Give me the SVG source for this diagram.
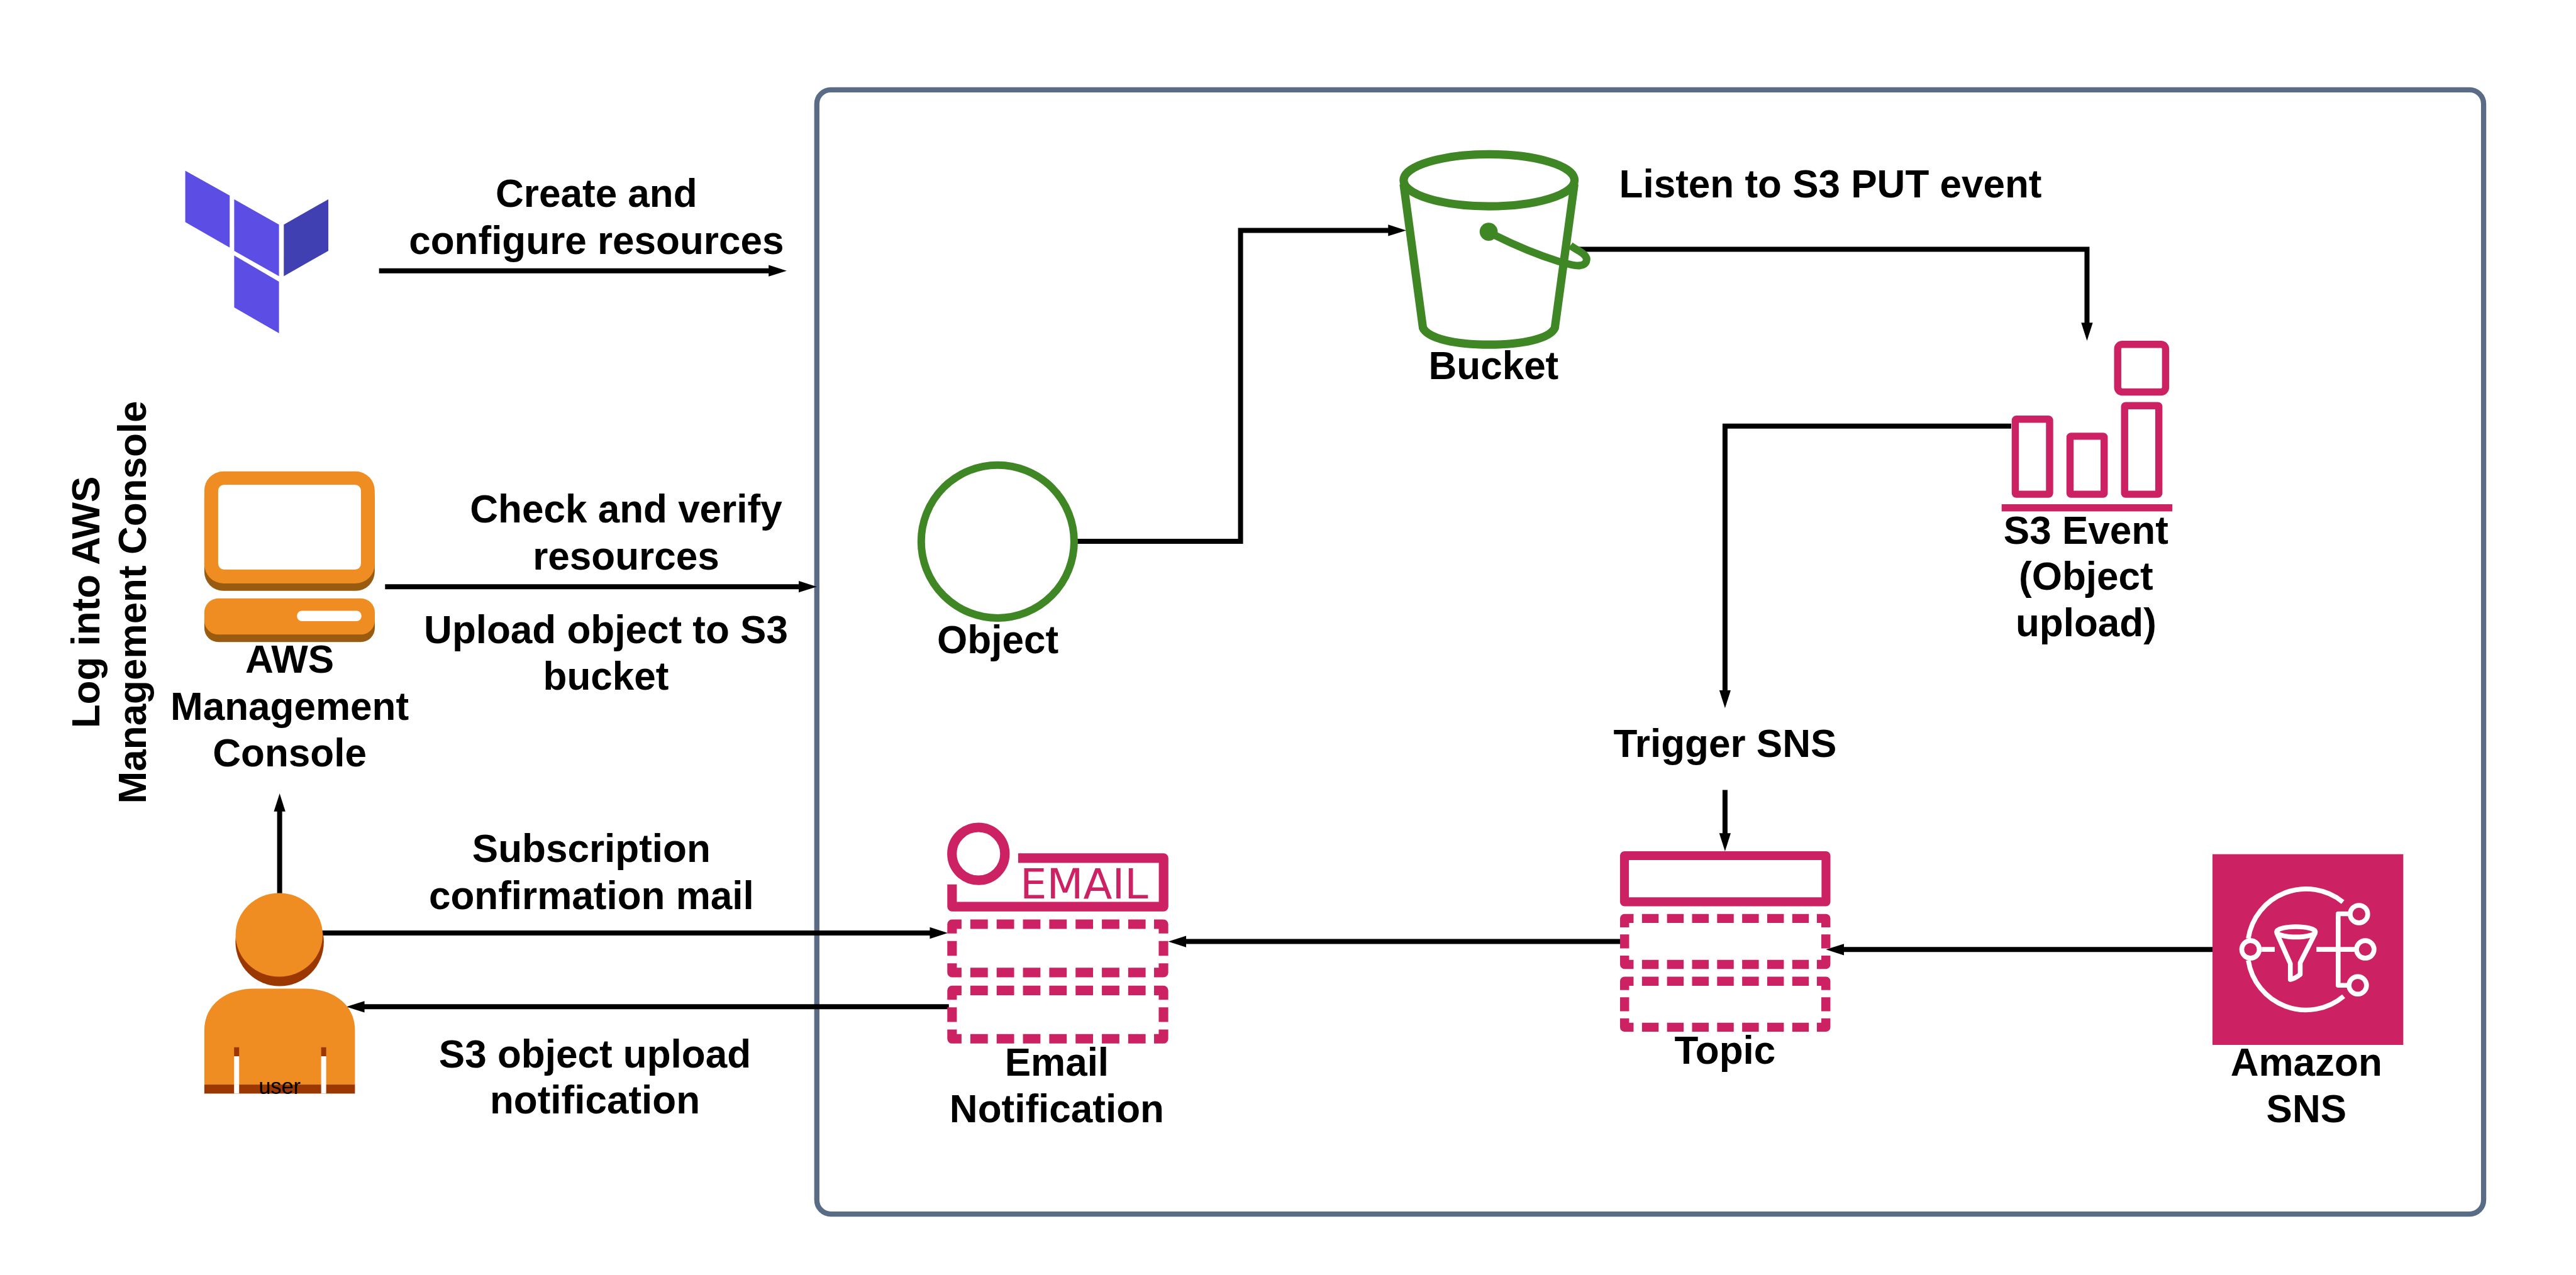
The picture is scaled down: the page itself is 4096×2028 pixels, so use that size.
<svg xmlns="http://www.w3.org/2000/svg" xmlns:xlink="http://www.w3.org/1999/xlink" width="4096" height="2028" viewBox="0 0 4096 2028">
<style>
.t{font-family:"Liberation Sans",Arial,sans-serif;font-weight:700;font-size:77.7px;fill:#000;text-anchor:middle}
.c{fill:none;stroke:#000;stroke-width:10;marker-end:url(#arr)}
.n{fill:none;stroke:#000;stroke-width:10}
.p{fill:none;stroke:#CC2264;stroke-linejoin:round}
.g{fill:none;stroke:#3F8624;stroke-linejoin:round}
.w{fill:none;stroke:#fff;stroke-width:9.5;stroke-linejoin:round}
.o{fill:#F08D22}
.tf{fill:#5C4EE5}
</style>
<defs>
<marker id="arr" markerUnits="userSpaceOnUse" markerWidth="36" markerHeight="24" viewBox="0 0 36 24" refX="1" refY="12" orient="auto"><polygon points="0,0.5 36,12 0,23.5" fill="#000"/></marker>
<g id="dashbox" class="p" stroke-width="19">
<path d="M9.5,28V9.5H28.3M411.8,9.5H430.6V28M9.5,87.3V105.8H28.3M411.8,105.8H430.6V87.3"/>
<path stroke-dasharray="34.8 17.6" d="M45.9,9.5H395M45.9,105.8H395"/>
<path d="M9.5,43V72.3M430.6,43V72.3"/>
</g>
</defs>
<rect width="4096" height="2028" fill="#fff"/>
<g transform="scale(0.79828)">
<g id="container"><rect x="1627" y="179" width="3320" height="2240" rx="28" fill="#fff" stroke="#5A6B86" stroke-width="10.4"/></g>
<g id="connectors">
<path class="c" d="M755,539.5H1532"/>
<path class="c" d="M767,1169H1592"/>
<path class="c" d="M557,1785V1616"/>
<path class="c" d="M640,1859H1853"/>
<path class="c" d="M1890,2006H725"/>
<path class="c" d="M3230,1876H2362"/>
<path class="c" d="M4410,1892H3672"/>
<path class="c" d="M3436,1574V1661"/>
<path class="c" d="M4006,849H3436V1376"/>
<path class="c" d="M3140,496.7H4157V644"/>
<path class="c" d="M2145,1078.7H2471V459H2766"/>
</g>
<g id="terraform">
<polygon class="tf" points="369,340 457.5,389.6 457.5,493.2 369,442.6"/>
<polygon class="tf" points="466.5,397 555.7,447.6 555.7,550.4 466.5,499.8"/>
<polygon fill="#4040B2" points="565.3,447.6 654,397 654,499.8 565.3,550.4"/>
<polygon class="tf" points="466.5,509 555.7,561.2 555.7,664 466.5,612.6"/>
</g>
<text class="t" x="1188" y="412">Create and</text>
<text class="t" x="1188" y="505.6">configure resources</text>
<g id="console">
<rect x="407" y="954" width="339.4" height="223.3" rx="38" fill="#995B10"/>
<rect x="407" y="939.3" width="339.4" height="223.1" rx="38" class="o"/>
<rect x="434.6" y="965.8" width="284.4" height="169.2" rx="12" fill="#fff"/>
<rect x="407" y="1207" width="339.6" height="72.3" rx="28" fill="#995B10"/>
<rect x="407" y="1192.2" width="339.6" height="72.2" rx="28" class="o"/>
<rect x="591.5" y="1217" width="128.5" height="20.8" rx="10" fill="#fff"/>
<text class="t" x="577" y="1340.6">AWS</text>
<text class="t" x="577" y="1434">Management</text>
<text class="t" x="577" y="1527">Console</text>
</g>
<text class="t" x="1247" y="1040.5">Check and verify</text>
<text class="t" x="1247" y="1135">resources</text>
<text class="t" x="1207" y="1281">Upload object to S3</text>
<text class="t" x="1207" y="1374.6">bucket</text>
<g transform="translate(198,1200) rotate(-90)"><text class="t" x="0" y="0">Log into AWS</text><text class="t" x="0" y="93">Management Console</text></g>
<g id="user">
<ellipse cx="557" cy="1877" rx="88" ry="88" fill="#9B3700"/>
<ellipse cx="556" cy="1862.7" rx="86.7" ry="83.3" class="o"/>
<path class="o" d="M407,2161V2053C407,2000 452,1970 507,1970H607C662,1970 707,2000 707,2053V2161Z"/>
<rect x="407" y="2161" width="300" height="18" fill="#9B3700"/>
<rect x="466.3" y="2086.7" width="10" height="18" fill="#9B3700"/>
<rect x="639.7" y="2086.7" width="10" height="18" fill="#9B3700"/>
<rect x="466.3" y="2104.7" width="10" height="74.3" fill="#fff"/>
<rect x="639.7" y="2104.7" width="10" height="74.3" fill="#fff"/>
<text x="557" y="2180" font-family="Liberation Sans, Arial, sans-serif" font-size="43" text-anchor="middle" fill="#000">user</text>
</g>
<text class="t" x="1178" y="1718">Subscription</text>
<text class="t" x="1178" y="1811">confirmation mail</text>
<text class="t" x="1185" y="2127">S3 object upload</text>
<text class="t" x="1185" y="2218">notification</text>
<g id="object">
<circle cx="1987.2" cy="1079" r="152.3" fill="#fff" stroke="#3F8624" stroke-width="15"/>
<text class="t" x="1987.5" y="1301.7">Object</text>
</g>
<g id="bucket">
<ellipse class="g" stroke-width="16.5" cx="2966" cy="359.2" rx="170.2" ry="51.8"/>
<path class="g" stroke-width="16.5" d="M2795.8,366.7L2834.3,653.3C2845,675 2900,686.7 2966,686.7S3087,675 3097,653.3L3136,366.7"/>
<circle cx="2965.2" cy="461.7" r="18" fill="#3F8624"/>
<path class="g" stroke-width="15" d="M2978,469C3020,490 3070,510 3105,521C3125,527 3140,530 3147,529C3160,528 3165,516 3155,507C3148,500 3138,497 3128,489"/>
<text class="t" x="2975" y="756">Bucket</text>
</g>
<text class="t" x="3646" y="393">Listen to S3 PUT event</text>
<g id="s3event">
<g class="p" stroke-width="14.3">
<rect x="4218.1" y="686.1" width="95.4" height="95" rx="9"/>
<rect x="4014.2" y="835.2" width="68.3" height="149.6" rx="2"/>
<rect x="4123.2" y="869.2" width="68" height="115.6" rx="2"/>
<rect x="4231.9" y="808.2" width="68.2" height="176.6" rx="2"/>
</g>
<rect x="3987" y="1004.7" width="340" height="14.3" fill="#CC2264"/>
<text class="t" x="4155" y="1083">S3 Event</text>
<text class="t" x="4155" y="1175">(Object</text>
<text class="t" x="4155" y="1268">upload)</text>
</g>
<text class="t" x="3436" y="1508">Trigger SNS</text>
<g id="email">
<circle cx="1948.9" cy="1701.2" r="52.7" fill="#fff" stroke="#CC2264" stroke-width="19"/>
<path class="p" stroke-width="19" d="M2028,1709.7H2317.7V1806.5H1896.4V1762.3"/>
<text x="2032" y="1789.7" font-family="DejaVu Sans, sans-serif" font-size="83" fill="#CC2264" textLength="255" lengthAdjust="spacingAndGlyphs">EMAIL</text>
<use href="#dashbox" xlink:href="#dashbox" x="1886.9" y="1832"/>
<use href="#dashbox" xlink:href="#dashbox" x="1886.9" y="1964"/>
<text class="t" x="2105" y="2143">Email</text>
<text class="t" x="2105" y="2236">Notification</text>
</g>
<g id="topic">
<rect class="p" stroke-width="17.7" x="3235.7" y="1704.9" width="401.4" height="92"/>
<use href="#dashbox" xlink:href="#dashbox" transform="translate(3226.9,1821) scale(0.952)"/>
<use href="#dashbox" xlink:href="#dashbox" transform="translate(3226.9,1946) scale(0.952)"/>
<text class="t" x="3436" y="2120">Topic</text>
</g>
<g id="sns">
<rect x="4407" y="1702" width="380" height="380" fill="#CC2264"/>
<path class="w" d="M4666.7,1797.3A116.3,116.3 0 0 0 4478.3,1870M4478.3,1913.3A116.3,116.3 0 0 0 4668.3,1985"/>
<circle class="w" cx="4482.7" cy="1891.7" r="17.5"/>
<path class="w" d="M4505,1891.7H4531M4614,1891.7H4690M4683.3,1820.7H4657.3V1963.3H4675"/>
<ellipse class="w" cx="4573.3" cy="1856.7" rx="38.7" ry="10.3"/>
<path class="w" d="M4534.6,1858.3L4562,1920V1951.7C4570,1950 4575,1947 4581.7,1941.7V1918.3L4612,1858.3"/>
<circle class="w" cx="4698.7" cy="1821.3" r="17.5"/>
<circle class="w" cx="4711.3" cy="1891.7" r="17.5"/>
<circle class="w" cx="4696.3" cy="1963.3" r="17.5"/>
<text class="t" x="4594" y="2143">Amazon</text>
<text class="t" x="4594" y="2236">SNS</text>
</g>
</g>
</svg>
